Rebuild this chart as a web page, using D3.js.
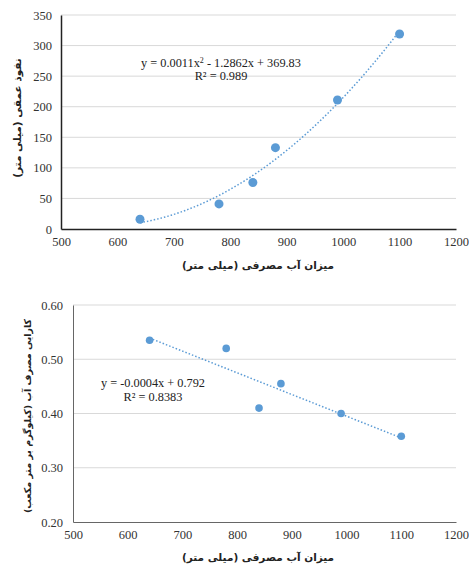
<!DOCTYPE html>
<html>
<head>
<meta charset="utf-8">
<script src="https://cdn.jsdelivr.net/npm/d3@7"></script>
<style>
  body { margin: 0; background: #fff; }
</style>
</head>
<body>
<svg id="chart" width="469" height="566"></svg>
<script>
// shared x values: water applied (mm)
var waterApplied = [640, 780, 840, 880, 990, 1100];
// deep percolation (mm)
var deepPerc = [16, 41, 76, 133, 211, 319];
// water use efficiency (kg/m3)
var wue = [0.535, 0.52, 0.41, 0.455, 0.40, 0.358];

var xTicks = [500, 600, 700, 800, 900, 1000, 1100, 1200];
var yTicksTop = [0, 50, 100, 150, 200, 250, 300, 350];
var yTicksBot = [0.20, 0.30, 0.40, 0.50, 0.60];

var xTitle = "میزان آب مصرفی (میلی متر)";
var yTitleTop = "نفوذ عمقی (میلی متر)";
var yTitleBot = "کارایی مصرف آب (کیلوگرم بر متر مکعب)";

var color = "#5B9BD5";
var serif = "'Liberation Serif', 'Times New Roman', serif";
var svg = d3.select("#chart");

// least squares polynomial fit (degree 1 or 2), like Excel trendline
function polyFit(xs, ys, deg) {
  var n = deg + 1, A = [], b = [];
  for (var i = 0; i < n; i++) {
    A.push([]);
    for (var j = 0; j < n; j++) A[i].push(d3.sum(xs, function (x) { return Math.pow(x, i + j); }));
    b.push(d3.sum(xs, function (x, k) { return ys[k] * Math.pow(x, i); }));
  }
  // gaussian elimination
  for (var c = 0; c < n; c++) {
    for (var r = c + 1; r < n; r++) {
      var f = A[r][c] / A[c][c];
      for (var k = c; k < n; k++) A[r][k] -= f * A[c][k];
      b[r] -= f * b[c];
    }
  }
  var coef = new Array(n);
  for (var r2 = n - 1; r2 >= 0; r2--) {
    var s = b[r2];
    for (var k2 = r2 + 1; k2 < n; k2++) s -= A[r2][k2] * coef[k2];
    coef[r2] = s / A[r2][r2];
  }
  return function (x) { return d3.sum(coef, function (cf, p) { return cf * Math.pow(x, p); }); };
}

function drawChart(opt) {
  var x = d3.scaleLinear().domain([500, 1200]).range([opt.left, 456]);
  var y = d3.scaleLinear().domain(opt.yDomain).range([opt.bottom, opt.top]);
  var g = svg.append("g");

  // gridlines
  g.selectAll(".grid").data(opt.yTicks.slice(1)).enter().append("line")
    .attr("x1", opt.left).attr("x2", 456)
    .attr("y1", function (d) { return y(d); }).attr("y2", function (d) { return y(d); })
    .attr("stroke", "#d9d9d9").attr("stroke-width", 1);

  // axes
  var xAxis = g.append("g").attr("transform", "translate(0," + opt.bottom + ")")
    .call(d3.axisBottom(x).tickValues(xTicks).tickFormat(d3.format("d")).tickSize(0).tickPadding(8));
  xAxis.select(".domain").attr("stroke", opt.axisColor).attr("stroke-width", opt.axisWidth);
  xAxis.selectAll("text").style("font-size", "12.5px").style("font-family", serif).style("fill", "#333");

  var yAxis = g.append("g").attr("transform", "translate(" + opt.left + ",0)")
    .call(d3.axisLeft(y).tickValues(opt.yTicks).tickFormat(opt.fmt).tickSize(0).tickPadding(opt.tickPad));
  yAxis.select(".domain").attr("stroke", opt.axisColor).attr("stroke-width", opt.axisWidth);
  yAxis.selectAll("text").style("font-size", "12.5px").style("font-family", serif).style("fill", "#333");

  // trendline
  var fit = polyFit(waterApplied, opt.values, opt.deg);
  var xs = d3.range(640, 1100.1, 5);
  g.append("path")
    .datum(xs)
    .attr("d", d3.line().x(function (d) { return x(d); }).y(function (d) { return y(fit(d)); }))
    .attr("fill", "none").attr("stroke", color).attr("stroke-width", 1.5)
    .attr("stroke-dasharray", "1.5,2");

  // points
  g.selectAll("circle").data(waterApplied).enter().append("circle")
    .attr("cx", function (d) { return x(d); })
    .attr("cy", function (d, i) { return y(opt.values[i]); })
    .attr("r", opt.r).attr("fill", color);

  // equation
  var eq = g.append("text").attr("x", opt.eqX).attr("y", opt.eqY)
    .attr("text-anchor", "middle")
    .style("font-size", "12.3px").style("font-family", serif).style("fill", "#222");
  opt.eq(eq);
  g.append("text").attr("x", opt.eqX).attr("y", opt.eqY + opt.eqGap)
    .attr("text-anchor", "middle")
    .style("font-size", "12.3px").style("font-family", serif).style("fill", "#222")
    .text(opt.r2);

  // titles
  g.append("text").attr("x", 258).attr("y", opt.xTitleY)
    .attr("text-anchor", "middle").attr("direction", "rtl")
    .style("font-family", "'DejaVu Sans', sans-serif").style("font-weight", "bold")
    .style("font-size", "10.5px").style("fill", "#222")
    .text(xTitle);
  g.append("text")
    .attr("transform", "translate(" + opt.yTitleX + "," + opt.yTitleY + ") rotate(-90)")
    .attr("text-anchor", "middle").attr("direction", "rtl")
    .style("font-family", "'DejaVu Sans', sans-serif").style("font-weight", "bold")
    .style("font-size", opt.yTitleSize).style("fill", "#222")
    .text(opt.yTitle);
}

drawChart({
  left: 61, top: 15, bottom: 229, yDomain: [0, 350], yTicks: yTicksTop,
  fmt: d3.format("d"), tickPad: 9, values: deepPerc, deg: 2, r: 4.5,
  axisColor: "#222", axisWidth: 1.5,
  eqX: 221, eqY: 67, eqGap: 12.5,
  eq: function (t) {
    t.append("tspan").text("y = 0.0011x");
    t.append("tspan").style("font-size", "8px").attr("dy", -4).text("2");
    t.append("tspan").attr("dy", 4).text(" - 1.2862x + 369.83");
  },
  r2: "R² = 0.989",
  xTitleY: 269, yTitle: yTitleTop, yTitleX: 21, yTitleY: 118, yTitleSize: "10.5px"
});

drawChart({
  left: 73, top: 305, bottom: 522, yDomain: [0.2, 0.6], yTicks: yTicksBot,
  fmt: d3.format(".2f"), tickPad: 10, values: wue, deg: 1, r: 3.8,
  axisColor: "#666", axisWidth: 1,
  eqX: 153, eqY: 387, eqGap: 14,
  eq: function (t) { t.text("y = -0.0004x + 0.792"); },
  r2: "R² = 0.8383",
  xTitleY: 561, yTitle: yTitleBot, yTitleX: 31, yTitleY: 416, yTitleSize: "9.5px"
});
</script>
</body>
</html>
